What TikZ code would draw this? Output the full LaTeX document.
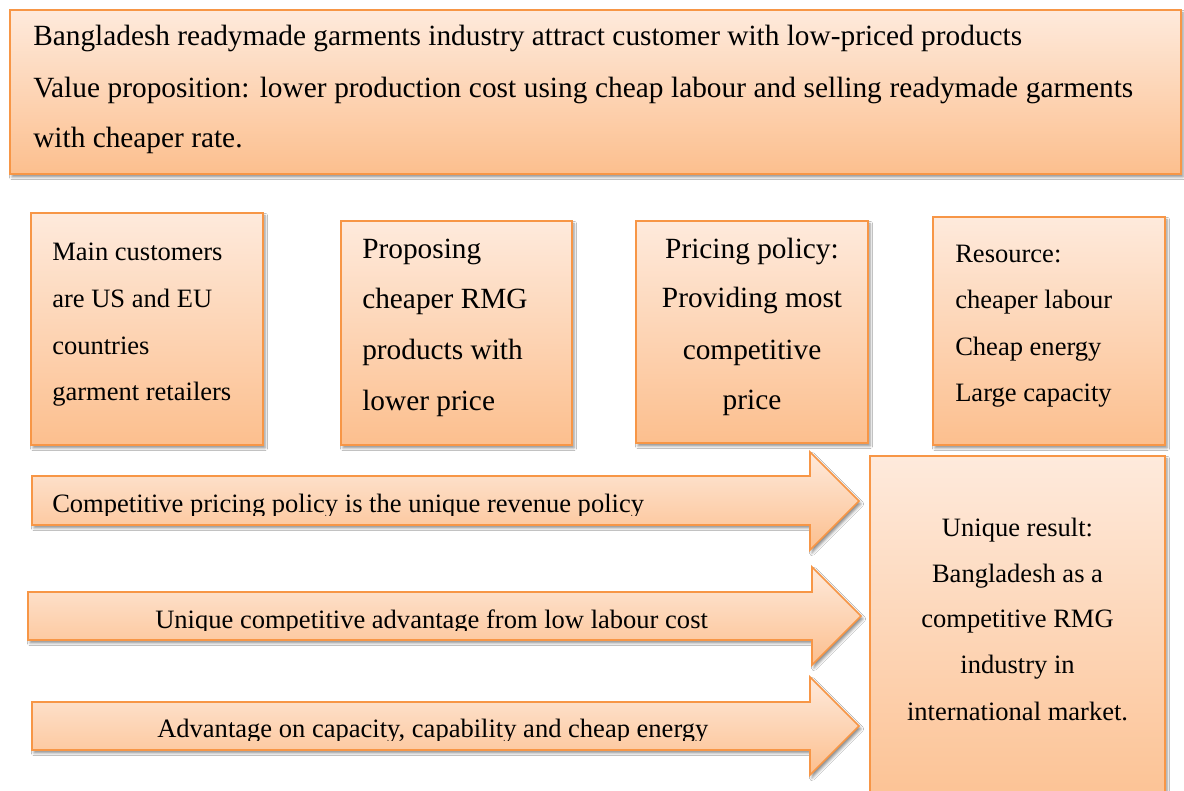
\documentclass[tikz,border=0pt]{standalone}
\usepackage{fontspec}
\setmainfont{Liberation Serif}
\usetikzlibrary{fit,shadows.blur}
\definecolor{peachtop}{HTML}{FEEADC}
\definecolor{peachbot}{HTML}{FCBF8E}
\definecolor{peachline}{HTML}{F79646}
\tikzset{
  panel/.style={draw=peachline, line width=1.3pt, top color=peachtop, bottom color=peachbot,
    blur shadow={shadow xshift=1.5pt, shadow yshift=-2.2pt, shadow blur radius=2pt, shadow opacity=45},
    inner sep=0pt},
  txt/.style={inner sep=0pt, font=\fontsize{19.9}{24}\selectfont},
  bigtxt/.style={inner sep=0pt, font=\fontsize{22}{26}\selectfont},
  lline/.style={txt, anchor=base west},
  cline/.style={txt, anchor=base},
  blline/.style={bigtxt, anchor=base west},
  bcline/.style={bigtxt, anchor=base},
}
\begin{document}
\begin{tikzpicture}[x=0.75pt,y=-0.75pt]
\useasboundingbox (0,0) rectangle (1184,791);
\fill[white] (0,0) rectangle (1184,791);
\clip (0,0) rectangle (1184,791);

% value proposition banner
\node[panel, fit={(10,10) (1181,174)}] (prop) {};
\node[blline] (prop1) at (33,46) {Bangladesh readymade garments industry attract customer with low-priced products};
\node[blline] (prop2) at (33,98) {\makebox[825pt][s]{Value proposition: lower production cost using cheap labour and selling readymade garments}};
\node[blline] (prop3) at (33,148) {with cheaper rate.};

% four building blocks
\node[panel, fit={(31,213) (263,445)}] (cust) {};
\node[lline] (cust1) at (52,261) {Main customers};
\node[lline] (cust2) at (52,308) {are US and EU};
\node[lline] (cust3) at (52,354) {countries};
\node[lline] (cust4) at (52,400) {garment retailers};

\node[panel, fit={(341,221) (572,445)}] (offer) {};
\node[blline] (offer1) at (362,259) {Proposing};
\node[blline] (offer2) at (362,309) {cheaper RMG};
\node[blline] (offer3) at (362,359) {products with};
\node[blline] (offer4) at (362,410) {lower price};

\node[panel, fit={(636,221) (868,443)}] (price) {};
\node[bcline] (price1) at (752,259) {Pricing policy:};
\node[bcline] (price2) at (752,308) {Providing most};
\node[bcline] (price3) at (752,359) {competitive};
\node[bcline] (price4) at (752,409) {price};

\node[panel, fit={(933,217) (1165,445)}] (res) {};
\node[lline] (res1) at (955,263) {Resource:};
\node[lline] (res2) at (955,309) {cheaper labour};
\node[lline] (res3) at (955,355) {Cheap energy};
\node[lline] (res4) at (955,401) {Large capacity};

% outcome block
\node[panel, fit={(870,456) (1165,830)}] (result) {};
\node[cline] (result1) at (1017.5,536) {Unique result:};
\node[cline] (result2) at (1017.5,582) {Bangladesh as a};
\node[cline] (result3) at (1017.5,627) {competitive RMG};
\node[cline] (result4) at (1017.5,673) {industry in};
\node[cline] (result5) at (1017.5,720) {international market.};

% block arrows
\path[panel] (32,476) -- (810,476) -- (810,452) -- (859,501) -- (810,550) -- (810,525) -- (32,525) -- cycle;
\begin{scope}
  \clip (32,476) rectangle (810,515);
  \node[lline] (arr1) at (52,512) {Competitive pricing policy is the unique revenue policy};
\end{scope}

\path[panel] (28,592) -- (812,592) -- (812,567) -- (861,616) -- (812,665) -- (812,640) -- (28,640) -- cycle;
\begin{scope}
  \clip (28,592) rectangle (812,630);
  \node[lline] (arr2) at (155,628) {Unique competitive advantage from low labour cost};
\end{scope}

\path[panel] (32,702) -- (810,702) -- (810,677) -- (859,726) -- (810,775) -- (810,750) -- (32,750) -- cycle;
\begin{scope}
  \clip (32,702) rectangle (810,740);
  \node[lline] (arr3) at (157,737) {Advantage on capacity, capability and cheap energy};
\end{scope}
\end{tikzpicture}
\end{document}
